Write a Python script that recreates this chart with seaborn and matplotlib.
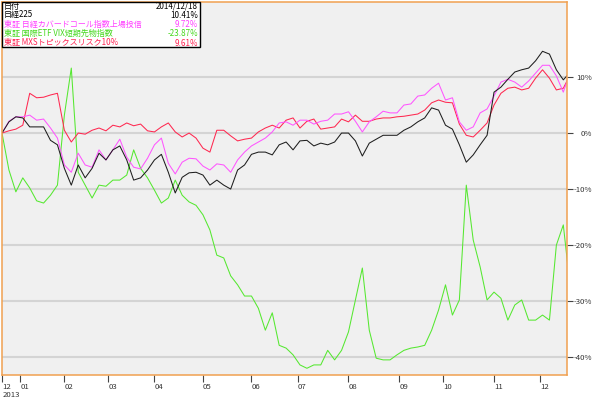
import pandas as pd
import seaborn as sns
import matplotlib.pyplot as plt
from matplotlib.patches import Rectangle

# Trading days (Tokyo) 2012-12-18 .. 2013-12-18
jp_holidays = ['2012-12-24', '2012-12-31', '2013-01-01', '2013-01-02', '2013-01-03',
               '2013-01-14', '2013-02-11', '2013-03-20', '2013-04-29', '2013-05-03',
               '2013-05-06', '2013-07-15', '2013-09-16', '2013-09-23', '2013-10-14',
               '2013-11-04']
dates = pd.bdate_range('2012-12-18', '2013-12-18', freq='C', holidays=jp_holidays)

# values read every 3rd trading day, plus the last day (% change from start)
sample_idx = list(range(0, 244, 3)) + [len(dates) - 1]

nikkei = [0.0, 2.0, 2.9, 2.7, 1.1, 1.1, 1.1, -1.3, -2.1, -6.3,
          -9.3, -5.7, -8.0, -6.3, -3.6, -4.8, -3.0, -2.3, -4.8, -8.4,
          -8.0, -6.6, -4.8, -3.8, -7.0, -10.7, -7.9, -7.1, -7.0, -7.5,
          -9.3, -8.4, -9.3, -10.0, -6.6, -5.7, -3.8, -3.4, -3.4, -3.9,
          -2.1, -1.6, -3.0, -1.4, -1.3, -2.3, -1.8, -2.1, -1.6, 0.0,
          0.0, -1.4, -4.1, -1.8, -1.1, -0.4, -0.4, -0.4, 0.5, 1.1,
          2.0, 2.7, 4.5, 4.1, 1.4, 0.7, -2.1, -5.2, -3.9, -2.1,
          -0.4, 7.3, 8.2, 9.6, 10.9, 11.3, 11.6, 12.9, 14.6, 14.1,
          11.3, 9.5, 10.41]

covered_call = [0.0, 2.1, 2.9, 2.9, 3.2, 2.3, 2.5, 0.9, -0.9, -5.7,
                -7.0, -3.6, -5.7, -6.1, -3.0, -4.8, -3.0, -1.1, -4.3, -6.1,
                -6.4, -4.5, -2.1, -0.9, -5.4, -7.3, -5.2, -4.5, -4.6, -5.9,
                -6.6, -5.5, -5.7, -7.0, -4.8, -3.4, -2.3, -1.6, -0.9, 0.2,
                1.8, 2.0, 1.4, 2.3, 2.3, 1.6, 2.1, 2.3, 3.4, 3.4,
                3.8, 2.1, 0.2, 2.0, 2.9, 3.9, 3.6, 3.6, 5.0, 5.2,
                6.6, 6.8, 8.0, 8.9, 5.9, 6.3, 2.0, 0.5, 1.1, 3.6,
                4.3, 6.6, 9.1, 9.6, 9.1, 8.2, 9.3, 10.7, 12.1, 12.1,
                10.2, 7.3, 9.72]

vix_futures = [0.0, -6.6, -10.5, -8.0, -9.8, -12.1, -12.5, -11.1, -9.3, 3.2,
               11.6, -7.0, -9.3, -11.6, -9.3, -9.5, -8.4, -8.4, -7.5, -3.0,
               -6.3, -8.0, -10.2, -12.5, -11.6, -8.4, -11.1, -12.3, -12.9, -14.6,
               -17.3, -21.8, -22.3, -25.5, -27.1, -29.1, -29.1, -31.3, -35.2, -32.1,
               -37.9, -38.4, -39.6, -41.4, -42.0, -41.4, -41.4, -38.8, -40.5, -38.8,
               -35.5, -29.8, -24.1, -35.2, -40.2, -40.5, -40.5, -39.6, -38.8, -38.4,
               -38.2, -37.9, -35.2, -31.6, -27.1, -32.5, -29.8, -9.3, -19.1, -23.9,
               -29.8, -28.4, -29.5, -33.4, -30.7, -29.8, -33.4, -33.4, -32.5, -33.4,
               -20.0, -16.4, -23.87]

mxs_risk10 = [0.0, 0.4, 0.7, 1.4, 7.1, 6.3, 6.4, 6.8, 7.1, 0.5,
              -1.6, 0.0, -0.2, 0.5, 0.9, 0.4, 1.4, 1.1, 1.8, 1.3,
              1.6, 0.4, 0.2, 1.1, 1.8, 0.2, -0.7, 0.0, -0.9, -2.7,
              -3.4, 0.5, 0.5, -0.5, -1.4, -1.1, -0.9, 0.2, 0.9, 1.4,
              0.9, 2.3, 2.7, 0.9, 2.1, 2.5, 0.7, 0.9, 1.1, 2.5,
              2.0, 3.2, 2.1, 2.1, 2.5, 2.7, 2.7, 2.9, 3.0, 3.2,
              3.4, 4.1, 5.4, 5.9, 5.5, 5.4, 1.6, -0.4, -0.7, 0.5,
              1.8, 5.0, 7.1, 8.0, 8.2, 7.7, 8.0, 9.8, 11.3, 9.8,
              7.7, 8.0, 9.61]

legend_names = ['日経225', '東証 日経カバードコール指数上場投信',
                '東証 国際ETF VIX短期先物指数', '東証 MXSトピックスリスク10%']
legend_values = ['10.41%', '9.72%', '-23.87%', '9.61%']
line_colors = ['#1e1e1e', '#ff55ff', '#55e830', '#ff2850']
text_colors = ['#000000', '#ff40ff', '#44d81c', '#ff2050']
y_ticks = [10, 0, -10, -20, -30, -40]

sns.set_style('white')
plt.rcParams['font.family'] = ['Noto Sans CJK JP', 'DejaVu Sans']

fig = plt.figure(figsize=(6, 3.99), dpi=100)
ax = fig.add_axes([2 / 600, 1 - 375 / 399, 565 / 600, 373 / 399])
ax.set_facecolor('#f0f0f0')

series = [nikkei, covered_call, vix_futures, mxs_risk10]
for i in [2, 3, 1, 0]:
    sns.lineplot(x=sample_idx, y=series[i], color=line_colors[i], lw=0.75, ax=ax)

ax.set_xlim(0, 244.6)
ax.set_ylim(-43.2, 23.4)

# horizontal grid
ax.set_yticks(y_ticks)
ax.yaxis.grid(True, color='#d4d4d4', lw=1.5)
ax.set_axisbelow(True)

# right-hand percent labels
ax.yaxis.tick_right()
ax.set_yticklabels([f'{v}%' for v in y_ticks], fontsize=5.6, color='#333333')
ax.tick_params(axis='y', which='major', right=True, length=4, width=0.8,
               color='#444444', pad=14)
for lab in ax.get_yticklabels():
    lab.set_horizontalalignment('right')

# month ticks at first trading day of each month
month_pos = [0] + [i for i in range(1, len(dates)) if dates[i].month != dates[i - 1].month]
ax.set_xticks(month_pos)
ax.set_xticklabels([dates[i].strftime('%m') for i in month_pos], fontsize=5.6, color='#333333')
ax.tick_params(axis='x', which='major', bottom=True, length=5, width=0.8,
               color='#444444', pad=1)
for lab in ax.get_xticklabels():
    lab.set_horizontalalignment('left')
fig.text(3 / 600, 1 - 395 / 399, '2013', fontsize=5.6, color='#333333', va='center')

for sp in ax.spines.values():
    sp.set_color('#f0a050')
    sp.set_linewidth(1.1)
ax.set_xlabel('')
ax.set_ylabel('')

# legend box
ax.add_patch(Rectangle((2 / 600, 1 - 47 / 399), 198 / 600, 45 / 399, transform=fig.transFigure,
                       facecolor='white', edgecolor='black', lw=1, zorder=5, clip_on=False))
rows_y = [6, 15, 24.5, 33.5, 43]
fig.text(4 / 600, 1 - rows_y[0] / 399, '日付', fontsize=5.8, color='black', va='center', zorder=6)
fig.text(198 / 600, 1 - rows_y[0] / 399, '2014/12/18', fontsize=5.8, color='black',
         va='center', ha='right', zorder=6)
for name, val, col, ry in zip(legend_names, legend_values, text_colors, rows_y[1:]):
    fig.text(4 / 600, 1 - ry / 399, name, fontsize=5.8, color=col, va='center', zorder=6)
    fig.text(198 / 600, 1 - ry / 399, val, fontsize=5.8, color=col, va='center', ha='right', zorder=6)

fig.savefig('out.png', dpi=100)
